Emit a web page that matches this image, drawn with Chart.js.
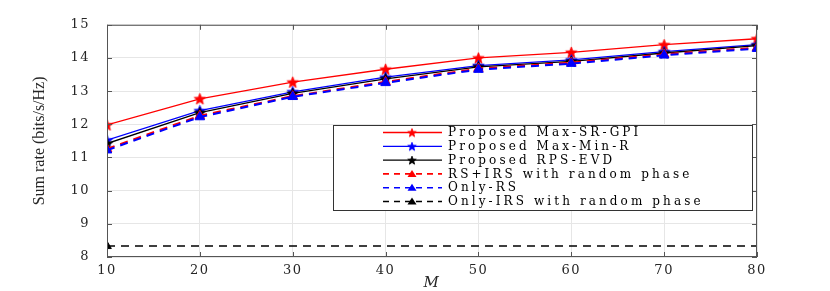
<!DOCTYPE html>
<html>
<head>
<meta charset="utf-8">
<script src="https://cdn.jsdelivr.net/npm/chart.js@4.4.1/dist/chart.umd.min.js"></script>
<style>
html,body{margin:0;padding:0;background:#fff;}
#wrap{width:830px;height:291px;position:relative;}
</style>
</head>
<body>
<div id="wrap"><canvas id="c" width="830" height="291"></canvas></div>
<script>
// ---- data ----
const M = [10, 20, 30, 40, 50, 60, 70, 80];
const maxSRGPI   = [11.98, 12.77, 13.27, 13.66, 14.00, 14.17, 14.40, 14.58];
const maxMinR    = [11.52, 12.41, 12.98, 13.42, 13.77, 13.94, 14.19, 14.40];
const rpsEVD     = [11.42, 12.35, 12.93, 13.37, 13.73, 13.90, 14.15, 14.37];
const rsIrsRand  = [11.26, 12.26, 12.85, 13.28, 13.68, 13.86, 14.11, 14.31];
const onlyRS     = [11.22, 12.22, 12.83, 13.25, 13.65, 13.83, 14.08, 14.28];
const onlyIRS    = [8.33, 8.33, 8.33, 8.33, 8.33, 8.33, 8.33, 8.33];
const seriesNames = [
  'Proposed Max-SR-GPI',
  'Proposed Max-Min-R',
  'Proposed RPS-EVD',
  'RS+IRS with random phase',
  'Only-RS',
  'Only-IRS with random phase'
];
const xTicks = [10, 20, 30, 40, 50, 60, 70, 80];
const yTicks = [8, 9, 10, 11, 12, 13, 14, 15];
const yTitle = 'Sum rate (bits/s/Hz)';

// ---- marker images ----
function starCanvas(color, r) {
  const s = Math.ceil(r * 2 + 3);
  const c = document.createElement('canvas');
  c.width = s; c.height = s;
  const g = c.getContext('2d');
  const cx = s / 2, cy = s / 2 + 0.5;
  g.beginPath();
  for (let i = 0; i < 10; i++) {
    const a = -Math.PI / 2 + i * Math.PI / 5;
    const rr = (i % 2) ? r * 0.42 : r;
    const px = cx + rr * Math.cos(a), py = cy + rr * Math.sin(a);
    if (i === 0) g.moveTo(px, py); else g.lineTo(px, py);
  }
  g.closePath();
  g.fillStyle = color; g.fill();
  g.strokeStyle = color; g.lineWidth = 0.8; g.stroke();
  return c;
}
const RED = '#ff0000', BLUE = '#0000ff', BLACK = '#000000';
const starRed = starCanvas(RED, 6), starBlue = starCanvas(BLUE, 6), starBlack = starCanvas(BLACK, 6);
const starRedS = starCanvas(RED, 4.5), starBlueS = starCanvas(BLUE, 4.5), starBlackS = starCanvas(BLACK, 4.5);

function pts(arr) { return M.map((m, i) => ({x: m, y: arr[i]})); }

const styles = [
  {color: RED,   dash: [],     marker: starRed,   lm: starRedS,   width: 1.3},
  {color: BLUE,  dash: [],     marker: starBlue,  lm: starBlueS,  width: 1.3},
  {color: BLACK, dash: [],     marker: starBlack, lm: starBlackS, width: 1.3},
  {color: RED,   dash: [8, 6], marker: 'triangle', lm: 'triangle', width: 2},
  {color: BLUE,  dash: [8, 6], marker: 'triangle', lm: 'triangle', width: 2},
  {color: BLACK, dash: [8, 6], marker: 'triangle', lm: 'triangle', width: 1.6}
];
const values = [maxSRGPI, maxMinR, rpsEVD, rsIrsRand, onlyRS, onlyIRS];

const datasets = values.map((v, i) => {
  const st = styles[i];
  return {
    label: seriesNames[i],
    data: pts(v),
    borderColor: st.color,
    backgroundColor: st.color,
    borderWidth: st.width,
    borderDash: st.dash,
    pointStyle: st.marker,
    pointRadius: i === 5 ? M.map((m, k) => k === 0 ? 5 : 0) : (st.marker === 'triangle' ? 5.5 : 6),
    pointBorderWidth: 1,
    pointBorderColor: st.color,
    pointBackgroundColor: st.color,
    tension: 0,
    order: 6 - i
  };
});

const boxPlugin = {
  id: 'boxPlugin',
  beforeDraw(chart) {
    chart.ctx.letterSpacing = '1.5px';
  },
  afterDatasetsDraw(chart) {
    const {ctx, chartArea: a, scales} = chart;
    ctx.save();
    ctx.strokeStyle = '#555555';
    ctx.lineWidth = 1;
    ctx.setLineDash([]);
    ctx.strokeRect(a.left + 0.5, a.top + 0.5, a.right - a.left - 1, a.bottom - a.top - 1);
    // inward ticks
    ctx.beginPath();
    xTicks.forEach(t => {
      const x = Math.round(scales.x.getPixelForValue(t)) + 0.5;
      ctx.moveTo(x, a.bottom); ctx.lineTo(x, a.bottom - 5);
      ctx.moveTo(x, a.top); ctx.lineTo(x, a.top + 5);
    });
    yTicks.forEach(t => {
      const y = Math.round(scales.y.getPixelForValue(t)) + 0.5;
      ctx.moveTo(a.left, y); ctx.lineTo(a.left + 5, y);
      ctx.moveTo(a.right, y); ctx.lineTo(a.right - 5, y);
    });
    ctx.stroke();

    // legend
    const L = 333, T = 125, R = 752, B = 210;
    ctx.fillStyle = '#ffffff';
    ctx.fillRect(L, T, R - L, B - T);
    ctx.strokeStyle = '#333333';
    ctx.strokeRect(L + 0.5, T + 0.5, R - L, B - T);
    ctx.font = '12px "DejaVu Serif"';
    ctx.letterSpacing = '3.1px';
    ctx.textBaseline = 'middle';
    ctx.textAlign = 'left';
    seriesNames.forEach((name, i) => {
      const st = styles[i];
      const y = T + 7.5 + i * 13.8;
      ctx.strokeStyle = st.color;
      ctx.lineWidth = st.dash.length ? 1.6 : 1.3;
      ctx.setLineDash(st.dash.length ? [6, 5] : []);
      ctx.beginPath(); ctx.moveTo(383, y); ctx.lineTo(442, y); ctx.stroke();
      ctx.setLineDash([]);
      if (st.lm === 'triangle') {
        ctx.fillStyle = st.color;
        ctx.beginPath();
        ctx.moveTo(412, y - 4); ctx.lineTo(416.5, y + 3); ctx.lineTo(407.5, y + 3); ctx.closePath();
        ctx.fill();
      } else {
        ctx.drawImage(st.lm, 412 - st.lm.width / 2, y - st.lm.height / 2);
      }
      ctx.fillStyle = '#000000';
      ctx.fillText(name, 448, y + 0.5);
    });

    // y axis title
    ctx.letterSpacing = '0px';
    ctx.translate(40, (a.top + a.bottom) / 2);
    ctx.rotate(-Math.PI / 2);
    ctx.font = '16px "Liberation Serif"';
    ctx.textAlign = 'center';
    ctx.textBaseline = 'middle';
    ctx.fillStyle = '#262626';
    ctx.fillText(yTitle, 0, 0);
    ctx.restore();
  }
};

new Chart(document.getElementById('c'), {
  type: 'line',
  data: {datasets},
  options: {
    responsive: false,
    animation: false,
    events: [],
    layout: {padding: {top: 22, right: 73, left: 0, bottom: 0}},
    plugins: {legend: {display: false}, tooltip: {enabled: false}},
    scales: {
      x: {
        type: 'linear', min: 10, max: 80,
        afterFit(s) { s.height = 34; },
        afterBuildTicks(s) { s.ticks = xTicks.map(v => ({value: v})); },
        grid: {color: '#e6e6e6', drawTicks: false},
        border: {display: false},
        ticks: {padding: 6, color: '#262626', font: {family: 'DejaVu Serif', size: 13}, maxRotation: 0},
        title: {display: true, text: 'M', color: '#262626', padding: {top: 0, bottom: 0},
          font: {family: 'DejaVu Serif', size: 15, style: 'italic', lineHeight: 1}}
      },
      y: {
        type: 'linear', min: 8, max: 15,
        afterFit(s) { s.width = 107; },
        afterBuildTicks(s) { s.ticks = yTicks.map(v => ({value: v})); },
        grid: {color: '#e6e6e6', drawTicks: false},
        border: {display: false},
        ticks: {padding: 17, color: '#262626', font: {family: 'DejaVu Serif', size: 13}},
        title: {display: false}
      }
    }
  },
  plugins: [boxPlugin]
});
</script>
</body>
</html>
